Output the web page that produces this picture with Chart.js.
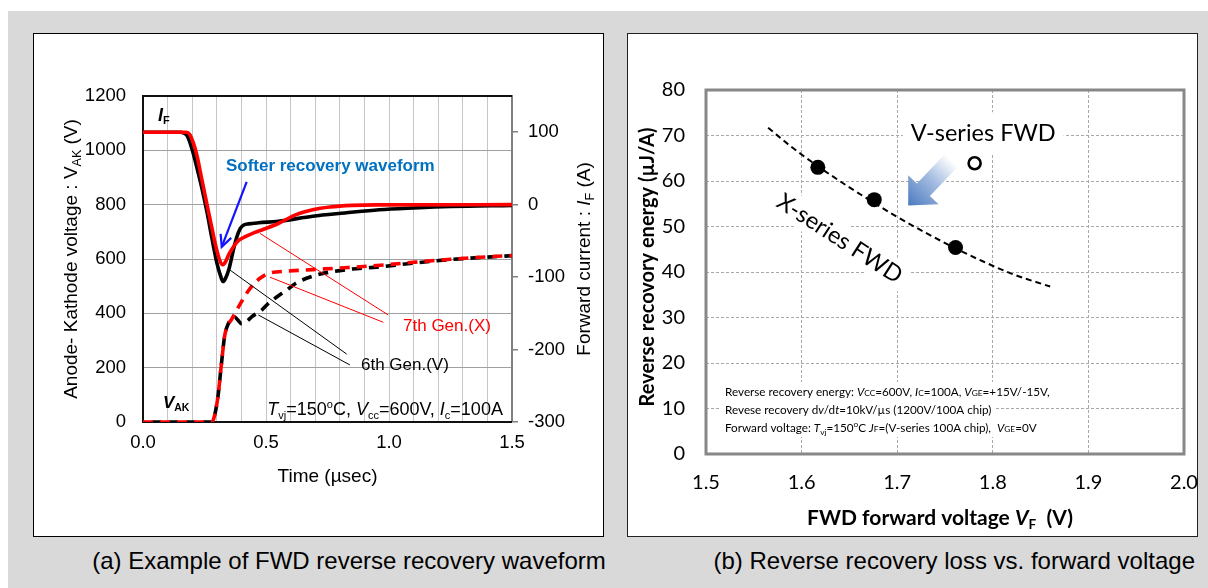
<!DOCTYPE html>
<html>
<head>
<meta charset="utf-8">
<script src="https://cdn.jsdelivr.net/npm/chart.js@4.4.1/dist/chart.umd.min.js"></script>
<style>
html,body{margin:0;padding:0;background:#fff;width:1208px;height:588px;overflow:hidden;position:relative;}
#bg{position:absolute;left:8px;top:11px;width:1200px;height:577px;background:#d9d9d9;}
.panel{position:absolute;background:#fff;border:1px solid #000;box-sizing:border-box;}
#pa{left:33px;top:33px;width:571px;height:504px;}
#pb{left:627px;top:33px;width:571px;height:504px;border-color:#222;}
canvas{position:absolute;}
#ca{left:34px;top:34px;}
#cb{left:628px;top:34px;}
.cap{position:absolute;top:547px;height:28px;line-height:28px;font-family:"Liberation Sans",Arial,sans-serif;font-size:24px;color:#000;white-space:nowrap;}
#capa{left:49px;width:600px;text-align:center;}
#capb{left:695px;width:500px;text-align:right;}
</style>
</head>
<body>
<div id="bg"></div>
<div class="panel" id="pa"></div>
<div class="panel" id="pb"></div>
<canvas id="ca" width="569" height="501"></canvas>
<canvas id="cb" width="580" height="501"></canvas>
<div class="cap" id="capa">(a) Example of FWD reverse recovery waveform</div>
<div class="cap" id="capb">(b) Reverse recovery loss vs. forward voltage</div>
<script>
// ===== (a) FWD reverse recovery waveform =====
// Forward current I_F (A) — 7th Gen.(X)
const timeIF7 = [0, 0.175, 0.19, 0.205, 0.22, 0.235, 0.25, 0.265, 0.28, 0.295, 0.31, 0.322, 0.335, 0.35, 0.37, 0.39, 0.42, 0.45, 0.49, 0.55, 0.62, 0.69, 0.76, 0.85, 0.95, 1.5];
const currentIF7 = [100, 100, 97, 85, 67, 42, 17, -8, -32, -56, -75, -83, -79, -68, -57, -49, -43.5, -39, -34, -26, -14, -7, -3.2, -1, -0.3, 0];
// Forward current I_F (A) — 6th Gen.(V)
const timeIF6 = [0, 0.15, 0.165, 0.18, 0.2, 0.22, 0.24, 0.26, 0.28, 0.3, 0.315, 0.325, 0.335, 0.35, 0.365, 0.38, 0.395, 0.41, 0.43, 0.47, 0.55, 0.69, 0.82, 0.96, 1.1, 1.25, 1.5];
const currentIF6 = [100, 100, 99, 95, 76, 50, 22, -10, -46, -80, -98, -106, -102, -88, -66, -46, -33, -28, -26.5, -25, -23, -16, -11.5, -7, -4.5, -2.5, -1];
// Anode-Kathode voltage V_AK (V) — 7th Gen.(X)
const timeVAK7 = [0, 0.28, 0.29, 0.305, 0.318, 0.332, 0.345, 0.36, 0.38, 0.40, 0.43, 0.46, 0.49, 0.52, 0.58, 0.69, 0.82, 0.95, 1.1, 1.25, 1.4, 1.5];
const voltageVAK7 = [0, 0, 20, 96, 207, 317, 355, 378, 410, 442, 485, 517, 538, 549, 555, 561, 568, 576, 588, 599, 608, 613];
// Anode-Kathode voltage V_AK (V) — 6th Gen.(V)
const timeVAK6 = [0, 0.28, 0.29, 0.305, 0.318, 0.332, 0.345, 0.36, 0.372, 0.385, 0.40, 0.415, 0.446, 0.48, 0.51, 0.545, 0.585, 0.62, 0.69, 0.76, 0.85, 0.95, 1.1, 1.25, 1.4, 1.5];
const voltageVAK6 = [0, 0, 20, 96, 207, 317, 358, 380, 386, 376, 362, 366, 390, 410, 437, 461, 486, 510, 537, 552, 563, 570, 585, 598, 607, 612];
const timeTickLabels = [0.0, 0.5, 1.0, 1.5];

// ===== (b) Reverse recovery loss vs forward voltage =====
const vfXSeries = [1.617, 1.676, 1.761];
const errXSeries = [63.0, 55.9, 45.4];
const vfVSeries = [1.781];
const errVSeries = [63.9];
const vfTrend = [1.565, 1.59, 1.616, 1.65, 1.675, 1.70, 1.73, 1.76, 1.79, 1.82, 1.86];
const errTrend = [71.7, 67.4, 63.4, 58.6, 55.3, 52.1, 48.6, 45.3, 42.3, 39.6, 36.8];

const pts = (xs, ys) => xs.map((v, i) => ({x: v, y: ys[i]}));
const FA = '"Liberation Sans", Arial, Helvetica, sans-serif';
const FB = 'Lato, "Open Sans", sans-serif';

function richWidth(ctx, parts) {
  let w = 0;
  parts.forEach(p => { ctx.font = p.f; w += ctx.measureText(p.t).width; });
  return w;
}
function drawRich(ctx, x, y, parts, align) {
  ctx.textAlign = 'left'; ctx.textBaseline = 'alphabetic';
  const w = richWidth(ctx, parts);
  let sx = align === 'center' ? x - w / 2 : align === 'right' ? x - w : x;
  parts.forEach(p => {
    ctx.font = p.f; ctx.fillStyle = p.c || '#000';
    ctx.fillText(p.t, sx, y + (p.dy || 0));
    sx += ctx.measureText(p.t).width;
  });
  return w;
}
function drawRotated(ctx, cx, cy, angle, parts, baseOff) {
  ctx.save(); ctx.translate(cx, cy); ctx.rotate(angle);
  drawRich(ctx, 0, baseOff, parts, 'center');
  ctx.restore();
}

// ---------- Chart (a) ----------
const annA = {
  id: 'annA',
  beforeDatasetsDraw(chart) {
    const {ctx, chartArea: a} = chart;
    ctx.save();
    ctx.strokeStyle = '#111'; ctx.lineWidth = 2;
    ctx.beginPath();
    ctx.moveTo(a.right, a.top); ctx.lineTo(a.left, a.top); ctx.lineTo(a.left, a.bottom); ctx.lineTo(a.right, a.bottom);
    ctx.stroke();
    ctx.restore();
  },
  afterDatasetsDraw(chart) {
    const {ctx, scales: {x, y}} = chart;
    const px = v => x.getPixelForValue(v), py = v => y.getPixelForValue(v);
    ctx.save();
    ctx.lineWidth = 1;
    const seg = (a, b, c, d, col) => { ctx.strokeStyle = col; ctx.beginPath(); ctx.moveTo(px(a), py(b)); ctx.lineTo(px(c), py(d)); ctx.stroke(); };
    seg(0.476, 694, 0.997, 394, '#ff0000');
    seg(0.516, 533, 0.977, 367, '#ff0000');
    seg(0.354, 559, 0.828, 250, '#000');
    seg(0.469, 394, 0.841, 210, '#000');
    // blue arrow
    const tx = px(0.4215), ty = py(884), hx = px(0.32), hy = py(645);
    ctx.strokeStyle = '#1414ff'; ctx.lineWidth = 2.2;
    ctx.beginPath(); ctx.moveTo(tx, ty); ctx.lineTo(hx, hy); ctx.stroke();
    const ang = Math.atan2(hy - ty, hx - tx);
    ctx.beginPath();
    ctx.moveTo(hx - 13 * Math.cos(ang - 0.45), hy - 13 * Math.sin(ang - 0.45));
    ctx.lineTo(hx, hy);
    ctx.lineTo(hx - 13 * Math.cos(ang + 0.45), hy - 13 * Math.sin(ang + 0.45));
    ctx.stroke();
    // labels
    drawRich(ctx, px(0.337), py(946) + 6, [{t: 'Softer recovery waveform', f: `bold 17px ${FA}`, c: '#0070c0'}], 'left');
    drawRich(ctx, px(1.057), py(357) + 6, [{t: '7th Gen.(X)', f: `17px ${FA}`, c: '#ff0000'}], 'left');
    drawRich(ctx, px(0.886), py(213) + 6, [{t: '6th Gen.(V)', f: `17px ${FA}`}], 'left');
    drawRich(ctx, px(0.061), py(1130) + 6, [{t: 'I', f: `bold italic 18px ${FA}`}, {t: 'F', f: `bold 11px ${FA}`, dy: 3}], 'left');
    drawRich(ctx, px(0.081), py(74) + 6, [{t: 'V', f: `bold italic 17px ${FA}`}, {t: 'AK', f: `bold 10.5px ${FA}`, dy: 3}], 'left');
    const n = `18px ${FA}`, it = `italic 18px ${FA}`, sm = `11px ${FA}`;
    drawRich(ctx, px(1.463), py(51.5) + 6.5, [
      {t: 'T', f: it}, {t: 'vj', f: sm, dy: 4}, {t: '=150', f: n}, {t: 'o', f: sm, dy: -7}, {t: 'C, ', f: n},
      {t: 'V', f: it}, {t: 'cc', f: sm, dy: 4}, {t: '=600V, ', f: n},
      {t: 'I', f: it}, {t: 'c', f: sm, dy: 4}, {t: '=100A', f: n}], 'right');
    ctx.restore();
  },
  afterDraw(chart) {
    const {ctx, chartArea: a} = chart;
    const n = `19px ${FA}`, sb = `12.5px ${FA}`, it = `italic 19px ${FA}`;
    const cy = (a.top + a.bottom) / 2;
    drawRotated(ctx, a.left - 73, cy, -Math.PI / 2, [
      {t: 'Anode- Kathode voltage : V', f: n}, {t: 'AK', f: sb, dy: 4}, {t: ' (V)', f: n}], 7);
    drawRotated(ctx, a.right + 71, cy, -Math.PI / 2, [
      {t: 'Forward current : ', f: n}, {t: 'I', f: it}, {t: 'F', f: sb, dy: 4}, {t: ' (A)', f: n}], 7);
    ctx.save();
    drawRich(ctx, (a.left + a.right) / 2, a.bottom + 60, [{t: 'Time (µsec)', f: n}], 'center');
    ctx.restore();
  }
};

const tickFontA = {family: FA, size: 18.5};
new Chart(document.getElementById('ca'), {
  type: 'line',
  data: {
    datasets: [
      {label: 'IF 7th', data: pts(timeIF7, currentIF7), yAxisID: 'y2', borderColor: '#ff0000', borderWidth: 3.6, pointRadius: 0, cubicInterpolationMode: 'monotone', fill: false},
      {label: 'VAK 7th', data: pts(timeVAK7, voltageVAK7), yAxisID: 'y', borderColor: '#ff0000', borderWidth: 3.6, borderDash: [10, 7], pointRadius: 0, cubicInterpolationMode: 'monotone', fill: false},
      {label: 'IF 6th', data: pts(timeIF6, currentIF6), yAxisID: 'y2', borderColor: '#000', borderWidth: 3.6, pointRadius: 0, cubicInterpolationMode: 'monotone', fill: false},
      {label: 'VAK 6th', data: pts(timeVAK6, voltageVAK6), yAxisID: 'y', borderColor: '#000', borderWidth: 3.6, borderDash: [10, 7], borderDashOffset: 8.5, pointRadius: 0, cubicInterpolationMode: 'monotone', fill: false}
    ]
  },
  options: {
    responsive: false, animation: false, devicePixelRatio: 1,
    layout: {padding: {top: 62, left: 0, right: 0, bottom: 0}},
    plugins: {legend: {display: false}, tooltip: {enabled: false}},
    scales: {
      x: {
        type: 'linear', min: 0, max: 1.5,
        ticks: {stepSize: 0.1, autoSkip: false, maxRotation: 0, padding: 10, color: '#000', font: tickFontA,
          callback: v => timeTickLabels.some(t => Math.abs(t - v) < 1e-6) ? Number(v).toFixed(1) : ''},
        grid: {color: '#c6c6c6', lineWidth: 1, drawTicks: false},
        border: {display: false},
        afterFit: s => { s.height = 113; s.paddingLeft = 0; s.paddingRight = 0; }
      },
      y: {
        position: 'left', min: 0, max: 1200,
        ticks: {stepSize: 200, padding: 17, color: '#000', font: tickFontA, callback: v => String(v)},
        grid: {color: '#a0a0a0', lineWidth: 1, drawTicks: false},
        border: {display: false},
        afterFit: s => { s.width = 109; s.paddingTop = 0; s.paddingBottom = 0; }
      },
      y2: {
        position: 'right', min: -300, max: 150,
        afterBuildTicks: s => { s.ticks = s.ticks.filter(t => t.value <= 100); },
        ticks: {stepSize: 100, padding: 10, color: '#000', font: tickFontA, callback: v => String(v)},
        grid: {drawOnChartArea: false, drawTicks: true, tickLength: 6, color: '#808080', lineWidth: 1.5},
        border: {display: true, color: '#808080', width: 2},
        afterFit: s => { s.width = 91; s.paddingTop = 0; s.paddingBottom = 0; }
      }
    }
  },
  plugins: [annA]
});

// ---------- Chart (b) ----------
const notesLines = () => {
  const r = `11.7px ${FB}`, i = `italic 11.7px ${FB}`, s = `8.3px ${FB}`;
  return [
    [{t: 'Reverse recovery energy: ', f: r}, {t: 'V', f: i}, {t: 'CC', f: s}, {t: '=600V, ', f: r}, {t: 'I', f: i}, {t: 'C', f: s}, {t: '=100A, ', f: r}, {t: 'V', f: i}, {t: 'GE', f: s}, {t: '=+15V/-15V,', f: r}],
    [{t: 'Revese recovery d', f: r}, {t: 'v', f: i}, {t: '/d', f: r}, {t: 't', f: i}, {t: '=10kV/µs (1200V/100A chip)', f: r}],
    [{t: 'Forward voltage: ', f: r}, {t: 'T', f: i}, {t: 'vj', f: s, dy: 3}, {t: '=150', f: r}, {t: 'o', f: s, dy: -5}, {t: 'C ', f: r}, {t: 'J', f: i}, {t: 'F', f: s}, {t: '=(V-series 100A chip),  ', f: r}, {t: 'V', f: i}, {t: 'GE', f: s}, {t: '=0V', f: r}]
  ];
};
const notesY = [13.63, 9.89, 5.93];
const labelFontB = `23.5px ${FB}`;

const annB = {
  id: 'annB',
  beforeDatasetsDraw(chart) {
    const {ctx, scales: {x, y}} = chart;
    const px = v => x.getPixelForValue(v), py = v => y.getPixelForValue(v);
    ctx.save();
    ctx.fillStyle = '#fff';
    ctx.font = labelFontB;
    let w = ctx.measureText('V-series FWD').width;
    ctx.fillRect(px(1.790) - w / 2 - 8, py(70.5) - 21, w + 16, 42);
    w = ctx.measureText('X-series FWD').width;
    ctx.save(); ctx.translate(px(1.640), py(47.4)); ctx.rotate(33 * Math.PI / 180);
    ctx.fillRect(-w / 2 - 5, -15, w + 10, 30);
    ctx.restore();
    const lines = notesLines();
    lines.forEach((ln, k) => {
      const lw = richWidth(ctx, ln);
      ctx.fillRect(px(1.5199) - 4, py(notesY[k]) - 10, lw + 8, 20);
    });
    ctx.restore();
  },
  afterDatasetsDraw(chart) {
    const {ctx, scales: {x, y}} = chart;
    const px = v => x.getPixelForValue(v), py = v => y.getPixelForValue(v);
    ctx.save();
    // gradient arrow
    const tx = px(1.757), ty = py(64.6), hx = px(1.7115), hy = py(54.6);
    const L = Math.hypot(hx - tx, hy - ty), ux = (hx - tx) / L, uy = (hy - ty) / L, nx = -uy, ny = ux;
    const sw = 9, hw = 21, hl = 22;
    const bx = hx - ux * hl, by = hy - uy * hl;
    const g = ctx.createLinearGradient(tx, ty, hx, hy);
    g.addColorStop(0, '#ffffff'); g.addColorStop(0.45, '#a3bbe0'); g.addColorStop(1, '#4a7abf');
    ctx.fillStyle = g;
    ctx.beginPath();
    ctx.moveTo(tx + nx * sw, ty + ny * sw);
    ctx.lineTo(bx + nx * sw, by + ny * sw);
    ctx.lineTo(bx + nx * hw, by + ny * hw);
    ctx.lineTo(hx, hy);
    ctx.lineTo(bx - nx * hw, by - ny * hw);
    ctx.lineTo(bx - nx * sw, by - ny * sw);
    ctx.lineTo(tx - nx * sw, ty - ny * sw);
    ctx.closePath(); ctx.fill();
    drawRich(ctx, px(1.790), py(70.5) + 8, [{t: 'V-series FWD', f: labelFontB}], 'center');
    ctx.save(); ctx.translate(px(1.640), py(47.4)); ctx.rotate(33 * Math.PI / 180);
    drawRich(ctx, 0, 8, [{t: 'X-series FWD', f: labelFontB}], 'center');
    ctx.restore();
    notesLines().forEach((ln, k) => drawRich(ctx, px(1.5199), py(notesY[k]) + 4.5, ln, 'left'));
    ctx.restore();
  },
  afterDraw(chart) {
    const {ctx, chartArea: a} = chart;
    ctx.save();
    ctx.strokeStyle = '#878787'; ctx.lineWidth = 3;
    ctx.strokeRect(a.left, a.top, a.right - a.left, a.bottom - a.top);
    const b = `bold 21px ${FB}`;
    drawRich(ctx, (a.left + a.right) / 2 - 5, a.bottom + 71, [
      {t: 'FWD forward voltage ', f: b}, {t: 'V', f: `bold italic 21px ${FB}`}, {t: 'F', f: `bold 13.5px ${FB}`, dy: 4}, {t: '  (V)', f: b}], 'center');
    drawRotated(ctx, a.left - 59, (a.top + a.bottom) / 2 - 5, -Math.PI / 2, [{t: 'Reverse recovory energy (µJ/A)', f: `bold 20px ${FB}`}], 7);
    ctx.restore();
  }
};

const tickFontB = {family: FB, size: 20};
new Chart(document.getElementById('cb'), {
  type: 'scatter',
  data: {
    datasets: [
      {label: 'V-series FWD', data: pts(vfVSeries, errVSeries), pointRadius: 6, pointBorderWidth: 2.6, pointBorderColor: '#000', pointBackgroundColor: '#fff', showLine: false},
      {label: 'X-series FWD', data: pts(vfXSeries, errXSeries), pointRadius: 7.5, pointBorderWidth: 0, pointBackgroundColor: '#000', pointBorderColor: '#000', showLine: false},
      {label: 'trend', data: pts(vfTrend, errTrend), showLine: true, borderColor: '#000', borderWidth: 2, borderDash: [6, 4], pointRadius: 0, cubicInterpolationMode: 'monotone', fill: false}
    ]
  },
  options: {
    responsive: false, animation: false, devicePixelRatio: 1,
    layout: {padding: {top: 56, left: 0, right: 24, bottom: 0}},
    plugins: {legend: {display: false}, tooltip: {enabled: false}},
    scales: {
      x: {
        type: 'linear', min: 1.5, max: 2.0,
        ticks: {stepSize: 0.1, autoSkip: false, maxRotation: 0, padding: 17, color: '#000', font: tickFontB, callback: v => Number(v).toFixed(1)},
        grid: {color: '#a8a8a8', lineWidth: 1, drawTicks: false},
        border: {display: false, dash: [3, 2]},
        afterFit: s => { s.height = 81; s.paddingLeft = 0; s.paddingRight = 0; }
      },
      y: {
        min: 0, max: 80,
        ticks: {stepSize: 10, padding: 21, color: '#000', font: tickFontB},
        grid: {color: '#a8a8a8', lineWidth: 1, drawTicks: false},
        border: {display: false, dash: [3, 2]},
        afterFit: s => { s.width = 78; s.paddingTop = 0; s.paddingBottom = 0; }
      }
    }
  },
  plugins: [annB]
});
</script>
</body>
</html>
